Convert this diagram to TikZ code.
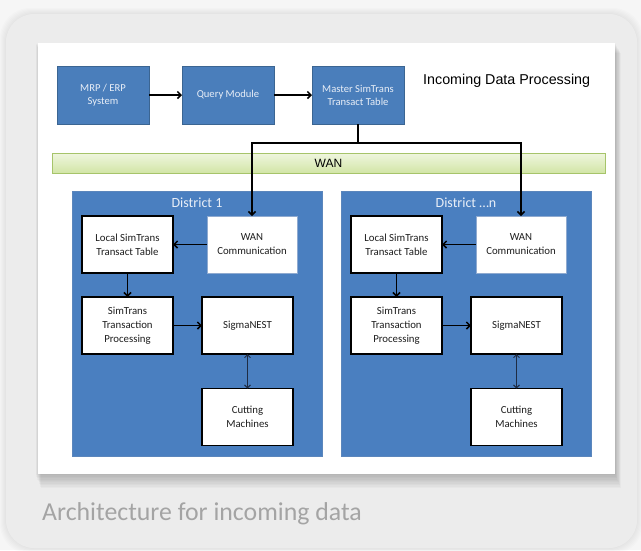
\documentclass[tikz,border=0pt]{standalone}
\usepackage{fontspec}
\setmainfont{Carlito}
\newfontfamily\arialf{Liberation Sans}
\usetikzlibrary{arrows.meta}
\definecolor{bgout}{HTML}{F6F6F6}
\definecolor{card}{HTML}{ECECEC}
\definecolor{boxblue}{HTML}{4A7EBB}
\definecolor{boxedge}{HTML}{3B6592}
\definecolor{distblue}{HTML}{4A7FC0}
\definecolor{distedge}{HTML}{5B86BC}
\definecolor{wanedge}{HTML}{A6C46A}
\definecolor{wantop}{HTML}{EFF6DF}
\definecolor{wanbot}{HTML}{D2E5A6}
\definecolor{capgray}{HTML}{A4A4A4}
\definecolor{txtdark}{HTML}{1E1E1E}
\definecolor{bluetxt}{HTML}{E8EEF7}
\definecolor{wcedge}{HTML}{8FAAD0}
\definecolor{dblarr}{HTML}{1E2C44}
\tikzset{
  topbox/.style={draw=boxedge, line width=0.8pt, fill=boxblue, minimum width=92pt, minimum height=58pt, inner sep=0pt, outer sep=0pt, align=center, text=bluetxt, font=\fontsize{10.6}{13}\selectfont},
  whitebox/.style={draw=black, line width=1.3pt, fill=white, minimum width=91pt, minimum height=57pt, inner sep=0pt, outer sep=0pt, align=center, text=txtdark, font=\fontsize{10.8}{14}\selectfont},
  wanbox/.style={whitebox, draw=wcedge, line width=0.8pt},
  district/.style={draw=distedge, line width=0.8pt, fill=distblue, minimum width=250pt, minimum height=265pt, inner sep=0pt, outer sep=0pt},
  disttitle/.style={text=bluetxt, font=\fontsize{14}{16}\selectfont, inner sep=0pt},
  arr/.style={line width=1.5pt, -{Straight Barb[length=3.5pt,width=7pt]}},
  plain/.style={line width=1.5pt},
  dbl/.style={line width=0.9pt, draw=dblarr, {Straight Barb[length=3pt,width=6pt]}-{Straight Barb[length=3pt,width=6pt]}}
}
\begin{document}
\begin{tikzpicture}[x=1pt,y=-1pt]
\useasboundingbox (0,0) rectangle (641,550);
\fill[bgout] (0,0) rectangle (641,550);
% card glow
\foreach \i in {1,...,6} {
  \fill[black, opacity=0.012, rounded corners=30pt] (6-\i,14-\i) rectangle (637+\i,548+\i);
}
\fill[card, rounded corners=28pt] (6,14) rectangle (637,548);
% panel shadow
\foreach \i in {1,...,10} {
  \fill[black, opacity=0.025] (38+0.6*\i-3,43+1.0*\i) rectangle (615+0.6*\i,474+1.4*\i);
}
\fill[white] (38,43) rectangle (615,474);

% top row
\node[topbox] (mrp) at (103,95) {MRP / ERP\\System};
\node[topbox] (query) at (228,95) {Query Module};
\node[topbox] (master) at (358,95) {Master SimTrans\\Transact Table};
\node[font=\arialf\fontsize{14.3}{16}\selectfont, text=black, anchor=base west, inner sep=0pt] (title) at (423,84) {Incoming Data Processing};

% WAN bar
\node[draw=wanedge, line width=0.8pt, top color=wantop, bottom color=wanbot, minimum width=553pt, minimum height=20pt, inner sep=0pt, font=\arialf\fontsize{12}{14}\selectfont, text=black] (wan) at (328.5,163) {WAN};

% districts
\node[district] (d1) at (197,323.5) {};
\node[district] (dn) at (466,323.5) {};
\node[disttitle] (t1) at (197,203) {District 1};
\node[disttitle] (tn) at (466,203) {District …n};

% district 1
\node[whitebox] (loc1) at (127.5,244.5) {Local SimTrans\\Transact Table};
\node[wanbox, minimum width=90pt] (wc1) at (252,244.5) {WAN\\Communication};
\node[whitebox] (stp1) at (127.5,325.5) {SimTrans\\Transaction\\Processing};
\node[whitebox] (sig1) at (247.5,325.5) {SigmaNEST};
\node[whitebox] (cut1) at (247.5,417) {Cutting\\Machines};

% district n
\node[whitebox] (locn) at (396.5,244.5) {Local SimTrans\\Transact Table};
\node[wanbox, minimum width=90pt] (wcn) at (521,244.5) {WAN\\Communication};
\node[whitebox] (stpn) at (396.5,325.5) {SimTrans\\Transaction\\Processing};
\node[whitebox] (sign) at (516.5,325.5) {SigmaNEST};
\node[whitebox] (cutn) at (516.5,417) {Cutting\\Machines};

% caption
\node[anchor=base west, inner sep=0pt, text=capgray, font=\fontsize{25.8}{28}\selectfont] (cap) at (42,520) {Architecture for incoming data};

% connectors
\draw[arr] (mrp) -- (query);
\draw[arr] (query) -- (master);
\coordinate (j) at (358,143);
\draw[plain] (master.south) -- (j);
\draw[arr] (j) -| (wc1.north);
\draw[arr] (j) -| (wcn.north);

\draw[arr] (wc1) -- (loc1);
\draw[arr] (loc1) -- (stp1);
\draw[arr] (stp1) -- (sig1);
\draw[dbl] (sig1) -- (cut1);

\draw[arr] (wcn) -- (locn);
\draw[arr] (locn) -- (stpn);
\draw[arr] (stpn) -- (sign);
\draw[dbl] (sign) -- (cutn);
\end{tikzpicture}
\end{document}
